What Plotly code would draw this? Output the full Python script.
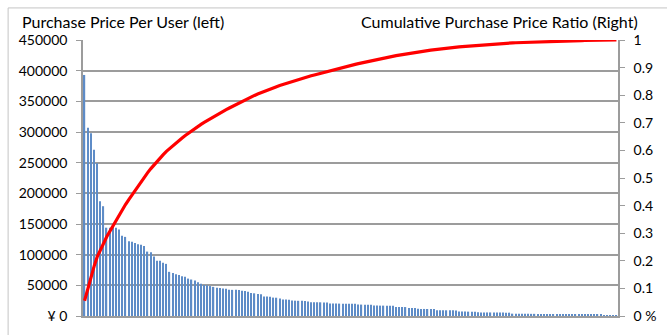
import plotly.graph_objects as go

# Purchase amount of each user, sorted from largest to smallest (yen)
purchase_price = [
    393000, 307000, 298000, 271000, 249000, 187000, 179000, 144000, 144000, 146000,
    144000, 141000, 131000, 129000, 122000, 121000, 119000, 117000,
    116000, 114000, 105000, 104000, 97000, 90000, 90000, 87000, 85000, 72000,
    70000, 68000, 67000, 65000, 64000, 61000, 59500, 58000, 55000, 52500,
    50500, 50000, 48800, 47500, 46000, 45800, 44800, 44500, 43000, 42600,
    42600, 42500, 41000, 40800, 39500, 37300, 37000, 35800, 35500, 31600,
    31600, 31500, 30000, 29800, 28400, 26800, 26700, 26500, 25200, 25000,
    24800, 24700, 24500, 23700, 22600, 22500, 22400, 22300, 22200, 22000,
    20500, 20400, 20300, 20200, 20100, 20000, 20000, 19900, 19800, 18700, 18600, 18500, 18400, 18300,
    17000, 17000, 16900, 16900, 16800, 16800, 16700,
    14800, 14800, 14700, 14600, 13200, 13200, 13100, 12000, 11500, 11500, 11400, 11400, 11300,
    9400, 9400, 9300, 9300, 9200, 9200, 9100, 7300, 7200, 7200, 7100, 7100, 7000,
    6000, 5900, 5900, 5800, 5800, 5700, 5700, 5600, 5600, 5500, 5500,
    3800, 3800, 3700, 3700, 3600, 3600, 3500, 3500, 3400,
    2400, 2400, 2300, 2300, 2300, 2200, 2200, 2200, 2100, 2100,
    2100, 2000, 2000, 2000, 1900, 1900, 1900, 1800, 1800, 1800,
    900, 800, 800, 700, 600,
]

# Users ranked by purchase amount
user_rank = list(range(1, len(purchase_price) + 1))

# Cumulative share of the total purchase amount
total = sum(purchase_price)
cumulative_ratio = []
running = 0
for v in purchase_price:
    running += v
    cumulative_ratio.append(running / total)

left_tickvals = [0, 50000, 100000, 150000, 200000, 250000, 300000, 350000, 400000, 450000]
left_ticktext = ["¥ 0", "50000", "100000", "150000", "200000", "250000",
                 "300000", "350000", "400000", "450000"]
right_tickvals = [0, 0.1, 0.2, 0.3, 0.4, 0.5, 0.6, 0.7, 0.8, 0.9, 1]
right_ticktext = ["0 %", "0.1", "0.2", "0.3", "0.4", "0.5", "0.6", "0.7", "0.8", "0.9", "1"]

GRID = "#9c9c9c"
FONT = "Lato"

fig = go.Figure()
fig.add_trace(go.Bar(
    x=user_rank, y=purchase_price,
    marker=dict(color="#5E8CC7", line=dict(width=0)),
    yaxis="y",
))
fig.add_trace(go.Scatter(
    x=user_rank, y=cumulative_ratio,
    mode="lines", line=dict(color="#FF0000", width=3.2),
    yaxis="y2",
))

fig.update_layout(
    width=667, height=335,
    margin=dict(l=83, r=41, t=40, b=11),
    paper_bgcolor="white", plot_bgcolor="white",
    showlegend=False,
    bargap=0.6,
    font=dict(family=FONT, size=14, color="#000000"),
    xaxis=dict(
        range=[0.5, len(purchase_price) + 0.5],
        showticklabels=False, ticks="", showgrid=False, zeroline=False,
        showline=True, linecolor=GRID, linewidth=1.5,
    ),
    yaxis=dict(
        range=[0, 450000], tickvals=left_tickvals, ticktext=left_ticktext,
        showgrid=True, gridcolor=GRID, gridwidth=1.5, zeroline=False,
        showline=True, linecolor=GRID, linewidth=1.5,
        ticks="outside", ticklen=5, tickcolor=GRID, tickwidth=1,
        ticklabelstandoff=6,
        tickfont=dict(family=FONT, size=14, color="#000000"),
    ),
    yaxis2=dict(
        overlaying="y", side="right",
        range=[0, 1], tickvals=right_tickvals, ticktext=right_ticktext,
        showgrid=False, zeroline=False,
        showline=True, linecolor=GRID, linewidth=1.5,
        ticks="outside", ticklen=5, tickcolor=GRID, tickwidth=1,
        ticklabelstandoff=6,
        tickfont=dict(family=FONT, size=14, color="#000000"),
    ),
    annotations=[
        dict(text="Purchase Price Per User (left)", xref="paper", yref="paper",
             x=(19 - 83) / 543, y=(324 - 21) / 284, xanchor="left", yanchor="middle",
             showarrow=False, font=dict(family=FONT, size=16, color="#000000")),
        dict(text="Cumulative Purchase Price Ratio (Right)", xref="paper", yref="paper",
             x=(648 - 83) / 543, y=(324 - 21) / 284, xanchor="right", yanchor="middle",
             showarrow=False, font=dict(family=FONT, size=16, color="#000000")),
    ],
    shapes=[
        dict(type="rect", xref="paper", yref="paper",
             x0=(7 - 83) / 543, x1=(690 - 83) / 543,
             y0=(324 - 360) / 284, y1=(324 - 7) / 284,
             line=dict(color="#c4c4c4", width=1), fillcolor="rgba(0,0,0,0)",
             layer="below"),
    ],
)

fig.write_html("out.html")
